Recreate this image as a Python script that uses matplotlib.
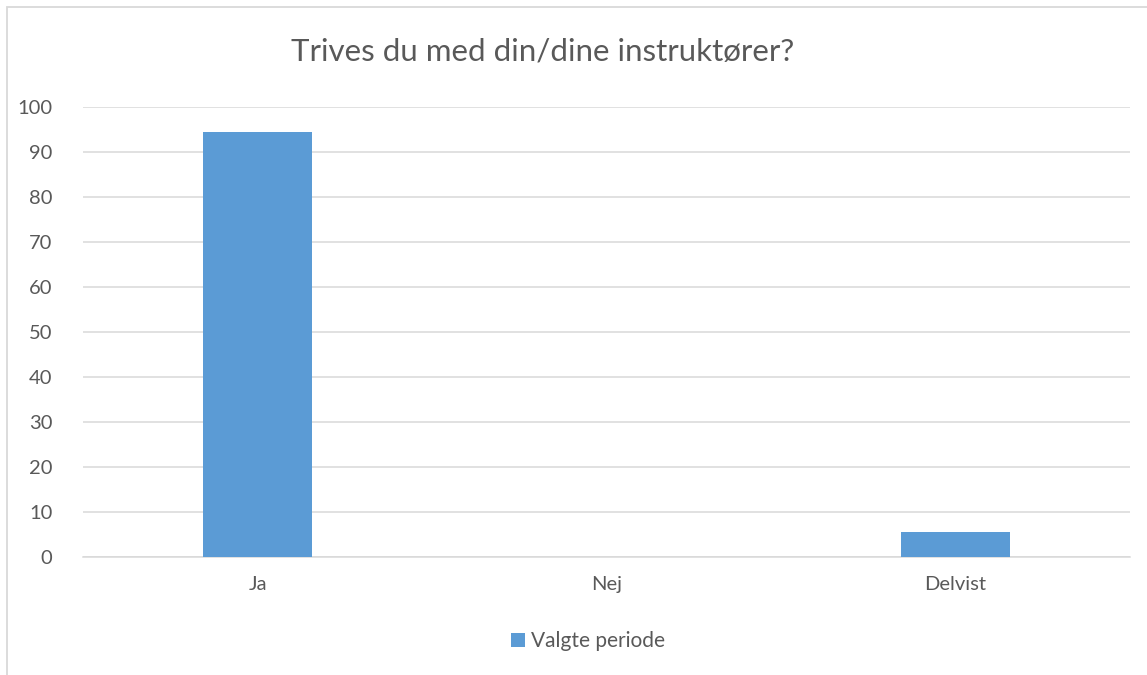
import matplotlib.pyplot as plt
from matplotlib.patches import Rectangle

categories = ["Ja", "Nej", "Delvist"]
values = [94.4, 0, 5.6]
series_name = "Valgte periode"
title = "Trives du med din/dine instruktører?"

plt.rcParams['font.family'] = ['Lato', 'DejaVu Sans']
txt = '#595959'
grid = '#d9d9d9'

fig = plt.figure(figsize=(11.47, 6.75), dpi=100)
ax = fig.add_axes([83 / 1147, 1 - 556.7 / 675, (1130 - 83) / 1147, (556.7 - 107) / 675])

x = range(len(categories))
bars = ax.bar(x, values, width=0.313, color='#5B9BD5', zorder=3, label=series_name)

ax.set_xlim(-0.5, 2.5)
ax.set_ylim(0, 100)
ax.set_yticks(range(0, 101, 10))
ax.set_xticks(list(x))
ax.set_xticklabels(categories)
ax.yaxis.grid(True, color=grid, linewidth=1.1, zorder=0)
ax.set_axisbelow(True)
for s in ['top', 'right', 'left']:
    ax.spines[s].set_visible(False)
ax.spines['bottom'].set_color(grid)
ax.spines['bottom'].set_linewidth(1.1)
ax.tick_params(axis='both', length=0, colors=txt, labelsize=14.5)
ax.tick_params(axis='y', pad=22)
ax.tick_params(axis='x', pad=14)

fig.text(543 / 1147, 1 - 52 / 675, title, ha='center', va='center', fontsize=22.5, color=txt)

leg = fig.legend(handles=[bars], labels=[series_name], loc='center',
                 bbox_to_anchor=(588 / 1147, 1 - 641 / 675), frameon=False,
                 fontsize=15, handlelength=0.65, handleheight=0.65, handletextpad=0.3)
for t in leg.get_texts():
    t.set_color(txt)

fig.patches.append(Rectangle((7.5 / 1147, -0.1), 1.2, 1.1 - 7.5 / 675,
                             transform=fig.transFigure, fill=False,
                             edgecolor=grid, linewidth=1.3))

fig.savefig("out.png", dpi=100)
